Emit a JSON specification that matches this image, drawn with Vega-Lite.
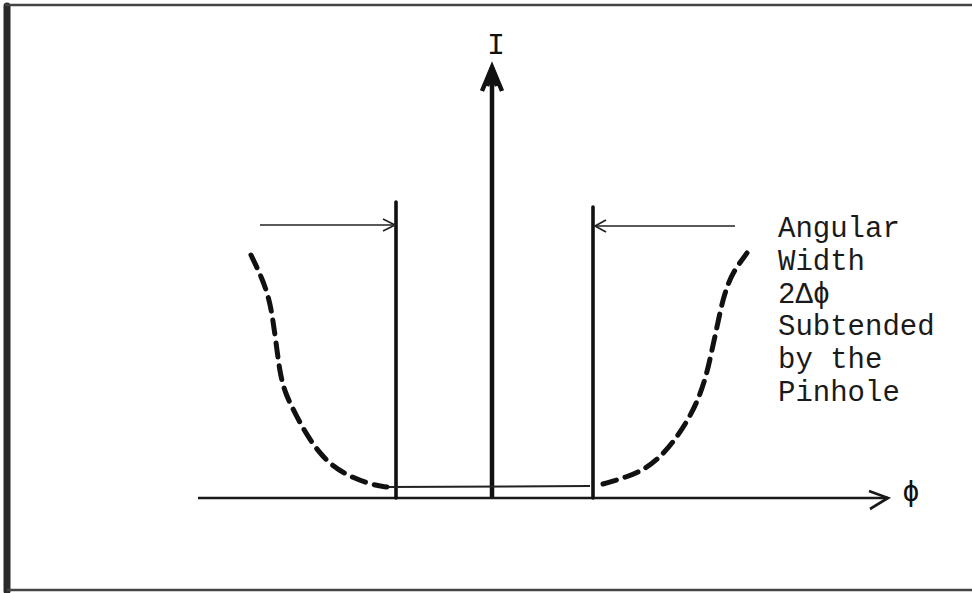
{
  "$schema": "https://vega.github.io/schema/vega-lite/v6.json",
  "width": 972,
  "height": 593,
  "autosize": {"type": "none"},
  "padding": 0,
  "background": "white",
  "config": {"view": {"stroke": null}},
  "datasets": {
    "paths": [
      {"shape": "frameL", "seq": 0, "phi": -4.85, "I": 4.92},
      {"shape": "frameL", "seq": 1, "phi": -4.85, "I": -0.93},
      {"shape": "frameT", "seq": 0, "phi": -4.87, "I": 4.93},
      {"shape": "frameT", "seq": 1, "phi": 4.80, "I": 4.93},
      {"shape": "frameB", "seq": 0, "phi": -4.85, "I": -0.92},
      {"shape": "frameB", "seq": 1, "phi": 4.80, "I": -0.92},
      {"shape": "vaxis", "seq": 0, "phi": 0, "I": 0},
      {"shape": "vaxis", "seq": 1, "phi": 0, "I": 4.31},
      {"shape": "vhead", "seq": 0, "phi": -0.10, "I": 4.07},
      {"shape": "vhead", "seq": 1, "phi": 0, "I": 4.31},
      {"shape": "vhead", "seq": 2, "phi": 0.10, "I": 4.07},
      {"shape": "vhead2", "seq": 0, "phi": -0.05, "I": 4.12},
      {"shape": "vhead2", "seq": 1, "phi": 0, "I": 4.25},
      {"shape": "vhead2", "seq": 2, "phi": 0.05, "I": 4.12},
      {"shape": "haxis", "seq": 0, "phi": -2.94, "I": 0},
      {"shape": "haxis", "seq": 1, "phi": 3.96, "I": 0},
      {"shape": "hhead", "seq": 0, "phi": 3.77, "I": 0.07},
      {"shape": "hhead", "seq": 1, "phi": 3.96, "I": 0},
      {"shape": "hhead", "seq": 2, "phi": 3.78, "I": -0.11},
      {"shape": "vlineL", "seq": 0, "phi": -0.96, "I": 0},
      {"shape": "vlineL", "seq": 1, "phi": -0.96, "I": 2.96},
      {"shape": "vlineR", "seq": 0, "phi": 1.01, "I": 0},
      {"shape": "vlineR", "seq": 1, "phi": 1.01, "I": 2.91},
      {"shape": "arrowL", "seq": 0, "phi": -2.32, "I": 2.73},
      {"shape": "arrowL", "seq": 1, "phi": -0.97, "I": 2.73},
      {"shape": "headL", "seq": 0, "phi": -1.09, "I": 2.79},
      {"shape": "headL", "seq": 1, "phi": -0.97, "I": 2.73},
      {"shape": "headL", "seq": 2, "phi": -1.09, "I": 2.67},
      {"shape": "arrowR", "seq": 0, "phi": 2.43, "I": 2.72},
      {"shape": "arrowR", "seq": 1, "phi": 1.03, "I": 2.72},
      {"shape": "headR", "seq": 0, "phi": 1.14, "I": 2.78},
      {"shape": "headR", "seq": 1, "phi": 1.03, "I": 2.72},
      {"shape": "headR", "seq": 2, "phi": 1.14, "I": 2.66},
      {"shape": "flat", "seq": 0, "phi": -1.05, "I": 0.11},
      {"shape": "flat", "seq": 1, "phi": 0.98, "I": 0.12},
      {"shape": "curveL", "seq": 0, "phi": -2.41, "I": 2.43},
      {"shape": "curveL", "seq": 1, "phi": -2.30, "I": 2.20},
      {"shape": "curveL", "seq": 2, "phi": -2.23, "I": 2.00},
      {"shape": "curveL", "seq": 3, "phi": -2.19, "I": 1.78},
      {"shape": "curveL", "seq": 4, "phi": -2.15, "I": 1.48},
      {"shape": "curveL", "seq": 5, "phi": -2.12, "I": 1.25},
      {"shape": "curveL", "seq": 6, "phi": -2.07, "I": 1.05},
      {"shape": "curveL", "seq": 7, "phi": -1.97, "I": 0.85},
      {"shape": "curveL", "seq": 8, "phi": -1.87, "I": 0.66},
      {"shape": "curveL", "seq": 9, "phi": -1.75, "I": 0.48},
      {"shape": "curveL", "seq": 10, "phi": -1.59, "I": 0.31},
      {"shape": "curveL", "seq": 11, "phi": -1.39, "I": 0.20},
      {"shape": "curveL", "seq": 12, "phi": -1.19, "I": 0.13},
      {"shape": "curveL", "seq": 13, "phi": -1.05, "I": 0.11},
      {"shape": "curveR", "seq": 0, "phi": 1.11, "I": 0.14},
      {"shape": "curveR", "seq": 1, "phi": 1.35, "I": 0.21},
      {"shape": "curveR", "seq": 2, "phi": 1.51, "I": 0.28},
      {"shape": "curveR", "seq": 3, "phi": 1.65, "I": 0.38},
      {"shape": "curveR", "seq": 4, "phi": 1.81, "I": 0.55},
      {"shape": "curveR", "seq": 5, "phi": 1.98, "I": 0.81},
      {"shape": "curveR", "seq": 6, "phi": 2.08, "I": 1.03},
      {"shape": "curveR", "seq": 7, "phi": 2.15, "I": 1.25},
      {"shape": "curveR", "seq": 8, "phi": 2.20, "I": 1.48},
      {"shape": "curveR", "seq": 9, "phi": 2.25, "I": 1.71},
      {"shape": "curveR", "seq": 10, "phi": 2.30, "I": 1.95},
      {"shape": "curveR", "seq": 11, "phi": 2.35, "I": 2.11},
      {"shape": "curveR", "seq": 12, "phi": 2.41, "I": 2.26},
      {"shape": "curveR", "seq": 13, "phi": 2.55, "I": 2.45}
    ],
    "labels": [
      {"role": "axisI", "text": "I", "phi": 0.04, "I": 4.53},
      {"role": "axisPhi", "text": "ϕ", "phi": 4.19, "I": 0.05},
      {"role": "note", "text": "Angular", "phi": 2.86, "I": 2.70},
      {"role": "note", "text": "Width", "phi": 2.86, "I": 2.37},
      {"role": "note", "text": "2Δϕ", "phi": 2.86, "I": 2.04},
      {"role": "note", "text": "Subtended", "phi": 2.86, "I": 1.72},
      {"role": "note", "text": "by the", "phi": 2.86, "I": 1.39},
      {"role": "note", "text": "Pinhole", "phi": 2.86, "I": 1.06}
    ]
  },
  "encoding": {
    "x": {"field": "phi", "type": "quantitative", "scale": {"domain": [-4.92, 4.80], "nice": false, "zero": false}, "axis": null},
    "y": {"field": "I", "type": "quantitative", "scale": {"domain": [-0.95, 4.98], "nice": false, "zero": false}, "axis": null}
  },
  "layer": [
    {
      "data": {"name": "paths"},
      "transform": [{"filter": "datum.shape === 'frameL'"}],
      "mark": {"type": "line", "color": "#2a2a2a", "strokeWidth": 7, "strokeCap": "round"},
      "encoding": {"detail": {"field": "shape"}, "order": {"field": "seq", "type": "quantitative"}}
    },
    {
      "data": {"name": "paths"},
      "transform": [{"filter": "datum.shape === 'frameT' || datum.shape === 'frameB'"}],
      "mark": {"type": "line", "color": "#444444", "strokeWidth": 2.5},
      "encoding": {"detail": {"field": "shape"}, "order": {"field": "seq", "type": "quantitative"}}
    },
    {
      "data": {"name": "paths"},
      "transform": [{"filter": "datum.shape === 'vaxis' || datum.shape === 'vhead' || datum.shape === 'vhead2'"}],
      "mark": {"type": "line", "color": "#111111", "strokeWidth": 4.5, "strokeJoin": "miter"},
      "encoding": {"detail": {"field": "shape"}, "order": {"field": "seq", "type": "quantitative"}}
    },
    {
      "data": {"name": "paths"},
      "transform": [{"filter": "datum.shape === 'haxis' || datum.shape === 'hhead'"}],
      "mark": {"type": "line", "color": "#1a1a1a", "strokeWidth": 2.7},
      "encoding": {"detail": {"field": "shape"}, "order": {"field": "seq", "type": "quantitative"}}
    },
    {
      "data": {"name": "paths"},
      "transform": [{"filter": "datum.shape === 'vlineL' || datum.shape === 'vlineR'"}],
      "mark": {"type": "line", "color": "#111111", "strokeWidth": 3.6, "strokeCap": "round"},
      "encoding": {"detail": {"field": "shape"}, "order": {"field": "seq", "type": "quantitative"}}
    },
    {
      "data": {"name": "paths"},
      "transform": [{"filter": "indexof(['arrowL','headL','arrowR','headR'], datum.shape) >= 0"}],
      "mark": {"type": "line", "color": "#222222", "strokeWidth": 1.7},
      "encoding": {"detail": {"field": "shape"}, "order": {"field": "seq", "type": "quantitative"}}
    },
    {
      "data": {"name": "paths"},
      "transform": [{"filter": "datum.shape === 'flat'"}],
      "mark": {"type": "line", "color": "#222222", "strokeWidth": 2},
      "encoding": {"detail": {"field": "shape"}, "order": {"field": "seq", "type": "quantitative"}}
    },
    {
      "data": {"name": "paths"},
      "transform": [{"filter": "datum.shape === 'curveL' || datum.shape === 'curveR'"}],
      "mark": {"type": "line", "color": "#111111", "strokeWidth": 5, "strokeDash": [14, 9], "interpolate": "basis", "strokeCap": "round"},
      "encoding": {"detail": {"field": "shape"}, "order": {"field": "seq", "type": "quantitative"}}
    },
    {
      "data": {"name": "labels"},
      "transform": [{"filter": "datum.role === 'axisI'"}],
      "mark": {"type": "text", "font": "Liberation Mono", "fontSize": 30, "align": "center", "baseline": "middle", "color": "#111111"},
      "encoding": {"text": {"field": "text"}}
    },
    {
      "data": {"name": "labels"},
      "transform": [{"filter": "datum.role === 'axisPhi'"}],
      "mark": {"type": "text", "font": "DejaVu Sans Mono", "fontSize": 28, "align": "center", "baseline": "middle", "color": "#111111"},
      "encoding": {"text": {"field": "text"}}
    },
    {
      "data": {"name": "labels"},
      "transform": [{"filter": "datum.role === 'note'"}],
      "mark": {"type": "text", "font": "Liberation Mono", "fontSize": 29, "align": "left", "baseline": "middle", "color": "#1a1a1a"},
      "encoding": {"text": {"field": "text"}}
    }
  ]
}
